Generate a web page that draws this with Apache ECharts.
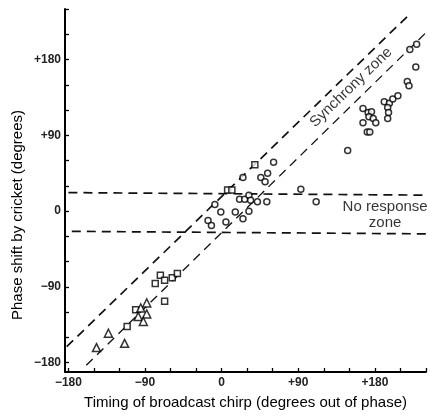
<!DOCTYPE html>
<html>
<head>
<meta charset="utf-8">
<script src="https://cdn.jsdelivr.net/npm/echarts@6/dist/echarts.min.js"></script>
<style>
  html, body { margin: 0; padding: 0; background: #fff; }
  #chart { width: 430px; height: 416px; }
</style>
</head>
<body>
<div id="chart"></div>
<script>
// ticks every 30 deg, labels every 90
const tickValues = [-180, -150, -120, -90, -60, -30, 0, 30, 60, 90, 120, 150, 180, 210, 240];
const labelValues = [-180, -90, 0, 90, 180];

// triangles (lower left)
const triangles = [
  [-147, -162], [-133, -145], [-114, -157], [-88, -109], [-95, -115],
  [-98, -125], [-88, -122], [-92, -131]
];

// squares
const squares = [
  [-111, -137], [-101, -117], [-78, -86], [-72, -76], [-67, -82],
  [-58, -79], [-52, -74], [-67, -107], [39, 55], [7, 25], [12, 25]
];

// circles
const circles = [
  [61, 58], [25, 40], [46, 40], [54, 45], [51, 35],
  [-8, 8], [21, 14], [27, 14], [32, 19], [34, 13], [42, 11], [53, 11],
  [-1, -1], [16, -1], [32, 0], [25, -9], [-16, -11], [-12, -17], [5, -13],
  [93, 26], [111, 11],
  [148, 72], [166, 122], [172, 117], [176, 118], [173, 112], [178, 110],
  [166, 105], [181, 105], [171, 94], [174, 94],
  [191, 130], [197, 128], [201, 133], [207, 137], [195, 123], [196, 117], [195, 110],
  [218, 154], [220, 149], [228, 171], [221, 192], [229, 198]
];

// dashed zone boundaries
const syncUpper = [[-182, -161], [222, 235]];
const syncLower = [[-159, -183], [240, 212]];
const noRespUpper = [[-180, 22], [240, 19]];
const noRespLower = [[-176, -24], [240, -27]];

const fmt = (v) => (v > 0 ? "+" + v : v < 0 ? "\u2212" + Math.abs(v) : "0");

const chart = echarts.init(document.getElementById("chart"));

const dash = (data, w) => ({
  type: "line",
  data: data,
  symbol: "none",
  silent: true,
  lineStyle: { color: "#111", width: w, type: [9, 6] },
  z: 1
});

const marker = (data, symbol, size) => ({
  type: "scatter",
  data: data,
  symbol: symbol,
  symbolSize: size,
  itemStyle: { color: "#fff", borderColor: "#000", borderWidth: 1.5 },
  z: 3
});

chart.setOption({
  animation: false,
  grid: { left: 65, top: 9, width: 361, height: 363 },
  textStyle: { fontFamily: "Liberation Sans" },
  xAxis: {
    type: "value",
    min: -184,
    max: 240,
    name: "Timing of broadcast chirp (degrees out of phase)",
    nameLocation: "middle",
    nameGap: 23,
    nameTextStyle: { fontSize: 15, color: "#000" },
    axisLine: { onZero: false, lineStyle: { color: "#000", width: 1.8 } },
    axisTick: { inside: true, length: 4, customValues: tickValues, lineStyle: { color: "#000", width: 1.3 } },
    axisLabel: { customValues: labelValues, formatter: fmt, fontSize: 12, fontWeight: "bold", color: "#222", margin: 5 },
    splitLine: { show: false }
  },
  yAxis: {
    type: "value",
    min: -191,
    max: 240,
    axisLine: { onZero: false, lineStyle: { color: "#000", width: 2 } },
    axisTick: { inside: true, length: 4, customValues: tickValues, lineStyle: { color: "#000", width: 1.3 } },
    axisLabel: { customValues: labelValues, formatter: fmt, fontSize: 12, fontWeight: "bold", color: "#222", margin: 4 },
    splitLine: { show: false }
  },
  graphic: [
    {
      type: "text",
      x: 18,
      y: 215,
      rotation: Math.PI / 2,
      style: {
        text: "Phase shift by cricket (degrees)",
        font: "15px Liberation Sans",
        fill: "#000",
        align: "center",
        verticalAlign: "middle"
      }
    }
  ],
  series: [
    dash(syncUpper, 1.7),
    dash(syncLower, 1.3),
    dash(noRespUpper, 1.7),
    dash(noRespLower, 1.7),
    marker(circles, "circle", 6),
    marker(squares, "rect", 6),
    marker(triangles, "triangle", 8),
    {
      type: "scatter",
      silent: true,
      symbolSize: 0,
      data: [
        { value: [152, 147], label: { formatter: "Synchrony zone", rotate: 44 } },
        { value: [192, -4], label: { formatter: "No response\nzone", lineHeight: 16 } }
      ],
      label: {
        show: true,
        position: "inside",
        fontSize: 15,
        color: "#000",
        fontFamily: "Liberation Sans",
        align: "center",
        verticalAlign: "middle"
      },
      z: 4
    }
  ]
});
</script>
</body>
</html>
